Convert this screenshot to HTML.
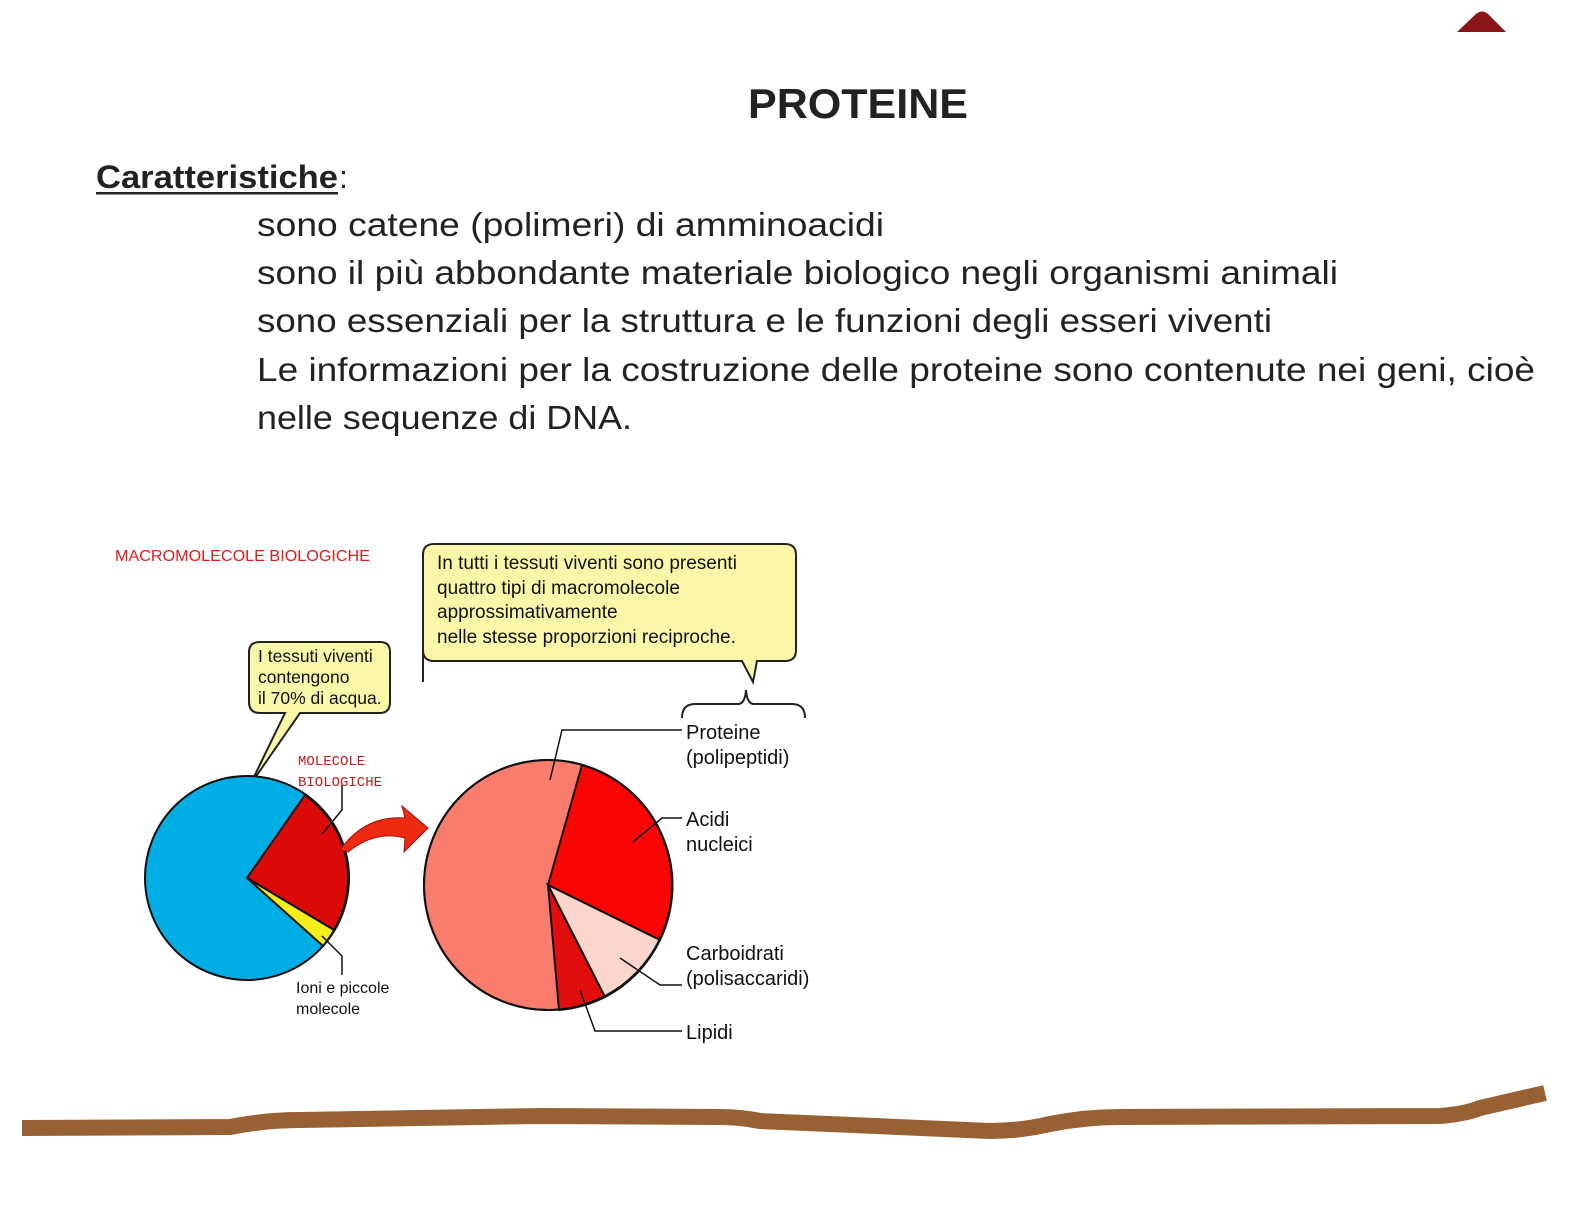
<!DOCTYPE html>
<html><head><meta charset="utf-8"><style>
html,body{margin:0;padding:0;background:#fff;}
svg{display:block}
.t{font-family:"Liberation Sans",sans-serif;fill:#222;}
.s{font-family:"Liberation Sans",sans-serif;fill:#111;font-size:19px;}
</style></head><body>
<svg width="1584" height="1224" viewBox="0 0 1584 1224" xmlns="http://www.w3.org/2000/svg">
<rect width="1584" height="1224" fill="#fff"/>
<path d="M1457,32 L1476,14 Q1482,9 1488,14 L1506,32 Z" fill="#8b1515"/>
<text class="t" x="748" y="118" font-size="42" font-weight="bold" textLength="220" lengthAdjust="spacingAndGlyphs" fill="#111">PROTEINE</text>
<text class="t" x="96" y="188" font-size="32" font-weight="bold" textLength="242" lengthAdjust="spacingAndGlyphs">Caratteristiche</text>
<rect x="96" y="192" width="242" height="2.5" fill="#222"/>
<text class="t" x="339" y="188" font-size="32">:</text>
<g font-size="33">
<text class="t" x="257" y="236" textLength="627" lengthAdjust="spacingAndGlyphs">sono catene (polimeri) di amminoacidi</text>
<text class="t" x="257" y="284" textLength="1081" lengthAdjust="spacingAndGlyphs">sono il più abbondante materiale biologico negli organismi animali</text>
<text class="t" x="257" y="332" textLength="1015" lengthAdjust="spacingAndGlyphs">sono essenziali per la struttura e le funzioni degli esseri viventi</text>
<text class="t" x="257" y="381" textLength="1278" lengthAdjust="spacingAndGlyphs">Le informazioni per la costruzione delle proteine sono contenute nei geni, cioè</text>
<text class="t" x="257" y="429" textLength="375" lengthAdjust="spacingAndGlyphs">nelle sequenze di DNA.</text>
</g>
<text x="115" y="561" font-family="Liberation Sans,sans-serif" font-size="16" fill="#e01b1b" textLength="255" lengthAdjust="spacingAndGlyphs">MACROMOLECOLE BIOLOGICHE</text>
<path d="M423,682 L423,555 Q423,544 434,544 L785,544 Q796,544 796,555 L796,650 Q796,661 785,661 L757,661 L753,682 L742,661 L434,661 Q423,661 423,650" fill="#fbf7a8" stroke="#222" stroke-width="2"/>
<g class="s">
<text x="437" y="569">In tutti i tessuti viventi sono presenti</text>
<text x="437" y="594">quattro tipi di macromolecole</text>
<text x="437" y="618">approssimativamente</text>
<text x="437" y="643">nelle stesse proporzioni reciproche.</text>
</g>
<path d="M682,718 Q682,704 695,704 L738,704 Q745,704 746,690 Q747,704 754,704 L792,704 Q805,704 805,718" fill="none" stroke="#222" stroke-width="2"/>
<path d="M260,713 Q249,713 249,702 L249,652 Q249,642 260,642 L380,642 Q390,642 390,652 L390,702 Q390,713 380,713 L300,713 L250,785 L285,713 Z" fill="#fbf7a8" stroke="#222" stroke-width="2"/>
<g class="s">
<text x="258" y="662" font-size="17.5">I tessuti viventi</text>
<text x="258" y="683" font-size="17.5">contengono</text>
<text x="258" y="704" font-size="17.5">il 70% di acqua.</text>
</g>
<ellipse cx="247" cy="878" rx="102" ry="102" fill="#00aee6" stroke="#111" stroke-width="2"/>
<path d="M247,878 L305,795 A102,102 0 0 1 334,930 Z" fill="#dd0a0a" stroke="#111" stroke-width="2"/>
<path d="M247,878 L334,930 A102,102 0 0 1 323,946 Z" fill="#f5ee1a" stroke="#111" stroke-width="2"/>
<path d="M342,785 L342,810 L322,834" fill="none" stroke="#111" stroke-width="1.5"/>
<path d="M322,936 L342,956 L342,975" fill="none" stroke="#111" stroke-width="1.5"/>
<text x="298" y="765" font-family="Liberation Mono,monospace" font-size="14" fill="#c41a1a">MOLECOLE</text>
<text x="298" y="786" font-family="Liberation Mono,monospace" font-size="14" fill="#c41a1a">BIOLOGICHE</text>
<g class="s">
<text x="296" y="993" font-size="16">Ioni e piccole</text>
<text x="296" y="1014" font-size="16">molecole</text>
</g>
<path d="M340,850 Q365,815 405,818 L402,806 L428,828 L404,852 L405,838 Q375,830 348,852 Z" fill="#ee2a10" stroke="#a01010" stroke-width="1"/>
<ellipse cx="548" cy="885" rx="124" ry="125" fill="#fa7c6c" stroke="#111" stroke-width="2"/>
<path d="M548,885 L582,765 A124,125 0 0 1 660,940 Z" fill="#fb0404" stroke="#111" stroke-width="2"/>
<path d="M548,885 L660,940 A124,125 0 0 1 605,997 Z" fill="#fcd6cc" stroke="#111" stroke-width="2"/>
<path d="M548,885 L605,997 A124,125 0 0 1 559,1010 Z" fill="#e20d0d" stroke="#111" stroke-width="2"/>
<ellipse cx="548" cy="885" rx="124" ry="125" fill="none" stroke="#111" stroke-width="2"/>
<g fill="none" stroke="#111" stroke-width="1.5">
<path d="M550,780 L562,730 L682,730"/>
<path d="M633,842 L662,818 L682,818"/>
<path d="M620,958 L660,985 L682,985"/>
<path d="M580,990 L595,1031 L682,1031"/>
</g>
<g class="s">
<text x="686" y="739" font-size="20">Proteine</text>
<text x="686" y="764" font-size="20">(polipeptidi)</text>
<text x="686" y="826" font-size="20">Acidi</text>
<text x="686" y="851" font-size="20">nucleici</text>
<text x="686" y="960" font-size="20">Carboidrati</text>
<text x="686" y="985" font-size="20">(polisaccaridi)</text>
<text x="686" y="1039" font-size="20">Lipidi</text>
</g>
<path d="M22,1128 L230,1127 Q265,1120 300,1120 L540,1116 L720,1117 Q740,1117 760,1121 L990,1131 Q1020,1131 1050,1124 Q1085,1117 1120,1117 L1440,1116 Q1465,1114 1480,1108 L1545,1093" fill="none" stroke="#976133" stroke-width="16" stroke-linecap="butt" stroke-linejoin="round"/>
</svg>
</body></html>
